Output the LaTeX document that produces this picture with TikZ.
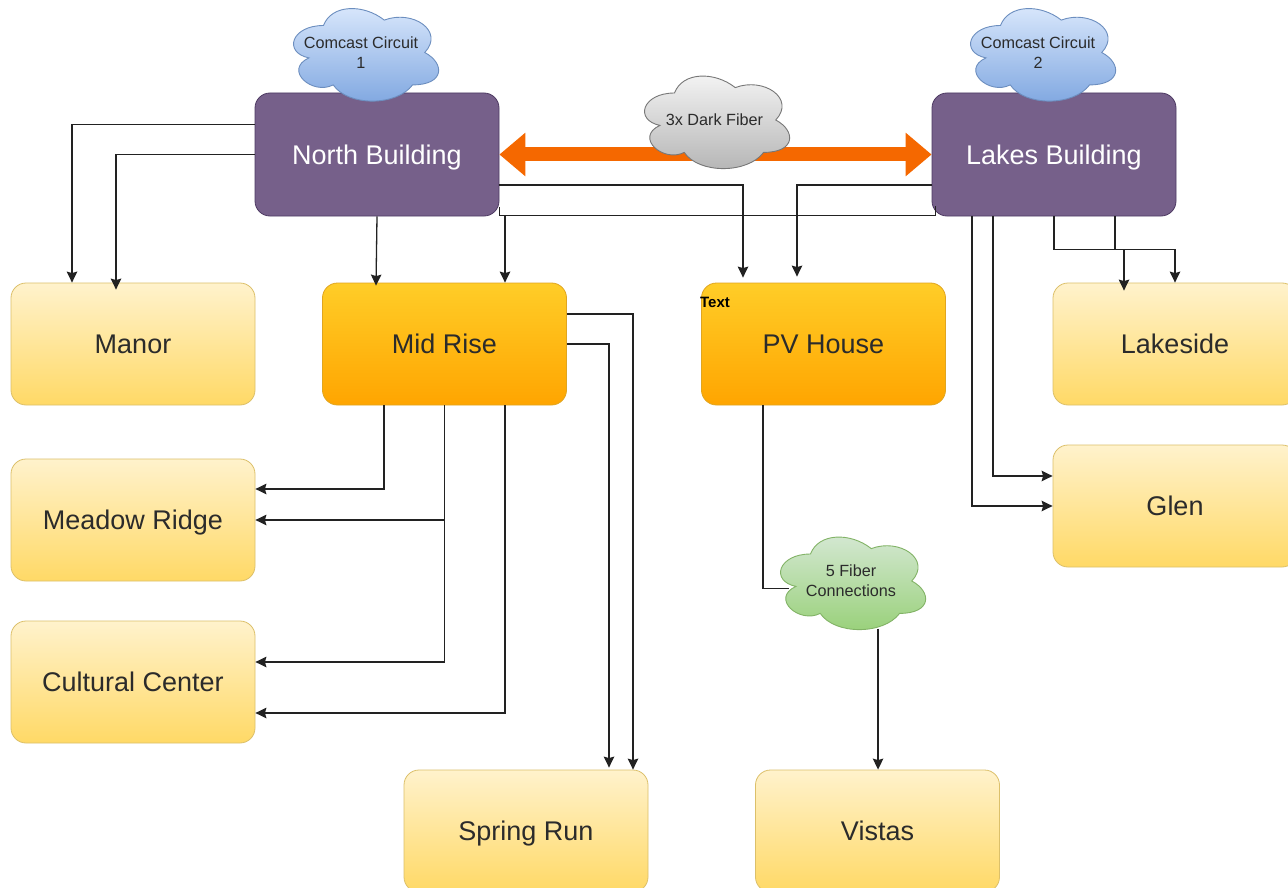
\documentclass[tikz,border=0pt]{standalone}
\usepackage{fontspec}
\setmainfont{Liberation Sans}
\usetikzlibrary{arrows.meta}
\definecolor{txt}{HTML}{2B2B2B}
\definecolor{conn}{HTML}{222222}
\definecolor{purp}{HTML}{76608A}
\definecolor{purpedge}{HTML}{4E3A63}
\definecolor{yelTop}{HTML}{FFF2CC}
\definecolor{yelBot}{HTML}{FFD966}
\definecolor{yelEdge}{HTML}{DCC06A}
\definecolor{oraTop}{HTML}{FFCD28}
\definecolor{oraBot}{HTML}{FFA500}
\definecolor{oraEdge}{HTML}{E0A520}
\definecolor{fat}{HTML}{F56800}
\definecolor{bluTop}{HTML}{DAE8FC}
\definecolor{bluBot}{HTML}{7EA6E0}
\definecolor{bluEdge}{HTML}{6C8EBF}
\definecolor{gryTop}{HTML}{F5F5F5}
\definecolor{gryBot}{HTML}{B3B3B3}
\definecolor{gryEdge}{HTML}{777777}
\definecolor{grnTop}{HTML}{D5E8D4}
\definecolor{grnBot}{HTML}{97D077}
\definecolor{grnEdge}{HTML}{82B366}
\tikzset{
  x=1pt,y=-1pt,
  basebox/.style={rectangle,rounded corners=15pt,minimum width=244pt,inner sep=0pt,text height=19.3pt,text depth=0pt,font=\fontsize{27}{32}\selectfont},
  purplebox/.style={basebox,minimum height=123pt,fill=purp,draw=purpedge,line width=.8pt,text=white},
  yellowbox/.style={basebox,minimum height=122pt,top color=yelTop,bottom color=yelBot,draw=yelEdge,line width=.8pt,text=txt},
  orangebox/.style={basebox,minimum height=122pt,top color=oraTop,bottom color=oraBot,draw=oraEdge,line width=.8pt,text=txt},
  wire/.style={draw=conn,line width=1.3pt},
  arrowwire/.style={wire,-{Stealth[length=11pt,width=10.5pt,inset=1.5pt]}},
  cloudtext/.style={align=center,text=txt,inner sep=0pt,font=\fontsize{16.2}{20}\selectfont},
  fatarrow/.style={draw=fat,line width=14pt,{Triangle[length=26pt,width=42pt]}-{Triangle[length=26pt,width=42pt]}}
}
\newcommand{\cloudat}[8]{% name,x0,y0,top,bottom,edge,text,text shift
  \begin{scope}[shift={(#2,#3)},x=162pt,y=-108pt]
    \path[top color=#4,bottom color=#5,draw=#6,line width=.9pt]
      (.25,.25) .. controls (.05,.25) and (0,.5) .. (.16,.55)
      .. controls (0,.66) and (.18,.9) .. (.31,.8)
      .. controls (.4,1) and (.7,1) .. (.8,.8)
      .. controls (1,.8) and (1,.6) .. (.875,.5)
      .. controls (1,.3) and (.8,.1) .. (.625,.2)
      .. controls (.5,.05) and (.3,.05) .. (.25,.25) -- cycle;
    \node[cloudtext,xshift=#8] (#1) at (.5,.5) {#7};
    \coordinate (#1-w) at (.12,.57);
    \coordinate (#1-s) at (.667,.94);
  \end{scope}}
\begin{document}
\begin{tikzpicture}
\useasboundingbox (0,0) rectangle (1288,888);
\clip (0,0) rectangle (1288,888);
\fill[white] (0,0) rectangle (1288,888);

% boxes
\node[purplebox] (north) at (377,154.5) {North Building};
\node[purplebox] (lakes) at (1054,154.5) {Lakes Building};
\node[yellowbox] (manor) at (133,344) {Manor};
\node[orangebox] (midrise) at (444.5,344) {Mid Rise};
\node[orangebox] (pv) at (823.5,344) {PV House};
\node[yellowbox] (lakeside) at (1175,344) {Lakeside};
\node[yellowbox] (glen) at (1175,506) {Glen};
\node[yellowbox] (meadow) at (133,520) {Meadow Ridge};
\node[yellowbox] (cultural) at (133,682) {Cultural Center};
\node[yellowbox] (spring) at (526,831) {Spring Run};
\node[yellowbox] (vistas) at (877.5,831) {Vistas};
\node[inner sep=0pt,font=\bfseries\fontsize{15}{16}\selectfont,text=black] (pvlabel) at (715,302) {Text};

% thick orange link
\draw[fatarrow] (north.east) -- (lakes.west);

% clouds
\cloudat{c1}{283}{-1.5}{bluTop}{bluBot}{bluEdge}{Comcast Circuit\\1}{-3pt}
\cloudat{c2}{960}{-1.5}{bluTop}{bluBot}{bluEdge}{Comcast Circuit\\2}{-3pt}
\cloudat{c0}{634}{66}{gryTop}{gryBot}{gryEdge}{3x Dark Fiber}{-0.5pt}
\cloudat{c3}{770}{527}{grnTop}{grnBot}{grnEdge}{5 Fiber\\Connections}{0pt}

% north connectors
\draw[arrowwire] ([yshift=30pt]north.west) -| ([xshift=-61pt]manor.north);
\draw[arrowwire] (north.west) -| ([xshift=-17pt,yshift=-7pt]manor.north);
\draw[arrowwire] (north.south) -- ([xshift=-68.5pt,yshift=-3pt]midrise.north);
\draw[arrowwire] ([xshift=128pt]north.south) -- ([xshift=60.5pt]midrise.north);
\draw[arrowwire] ([yshift=-30.5pt]north.east) -| ([xshift=-80.5pt,yshift=5pt]pv.north);
\draw[wire] ([yshift=9pt]north.south east) |- ([xshift=4pt,yshift=1pt]lakes.south west) -- ++(0,-9);

% lakes connectors
\draw[arrowwire] ([yshift=-30.5pt]lakes.west) -| ([xshift=-26.5pt,yshift=6pt]pv.north);
\draw[arrowwire] ([xshift=-82pt]lakes.south) |- (glen.west);
\draw[arrowwire] ([xshift=-61pt]lakes.south) |- ([yshift=30pt]glen.west);
\draw[arrowwire] (lakes.south) -- ++(0,33) -| ([xshift=-51pt,yshift=-8pt]lakeside.north);
\draw[arrowwire] ([xshift=61pt]lakes.south) -- ++(0,33) -| (lakeside.north);

% mid rise connectors
\draw[arrowwire] ([xshift=-60.5pt]midrise.south) |- ([yshift=31pt]meadow.east);
\draw[arrowwire] (midrise.south) |- (meadow.east);
\draw[arrowwire] (midrise.south) |- ([yshift=20pt]cultural.east);
\draw[arrowwire] ([xshift=60.5pt]midrise.south) |- ([yshift=-31pt]cultural.east);
\draw[arrowwire] ([yshift=30pt]midrise.east) -| ([xshift=107pt]spring.north);
\draw[arrowwire] (midrise.east) -| ([xshift=83pt,yshift=2pt]spring.north);

% fibre connectors
\draw[wire] ([xshift=-60.5pt]pv.south) |- (c3-w);
\draw[arrowwire] (c3-s) -- (c3-s |- vistas.north);
\end{tikzpicture}
\end{document}
